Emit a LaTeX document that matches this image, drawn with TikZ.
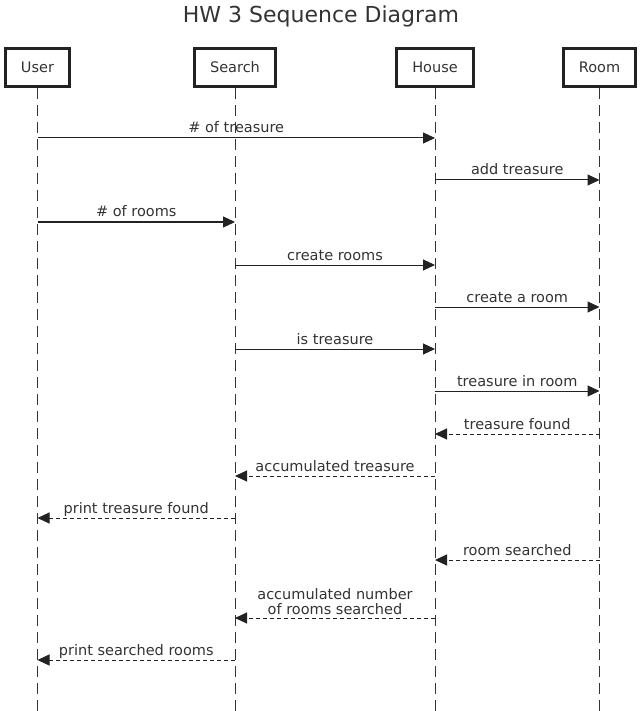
\documentclass[tikz,border=0pt]{standalone}
\usepackage{fontspec}
\setmainfont{DejaVu Sans}
\usetikzlibrary{arrows.meta}
\definecolor{ink}{HTML}{333333}
\definecolor{dark}{HTML}{222222}

\tikzset{
	actor/.style={draw=dark, line width=2.8pt, minimum height=38.2pt, inner sep=0pt,
		text=ink, font=\fontsize{14.5}{17}\selectfont},
	life/.style={draw=ink, line width=1pt, dash pattern=on 11pt off 6pt},
	msg/.style={draw=dark, line width=1pt, -{Triangle[length=12pt,width=11pt]}},
	reply/.style={msg, dash pattern=on 4pt off 3pt},
	lbl/.style={anchor=base, yshift=5pt, inner sep=0pt, text=ink,
		font=\fontsize{14.5}{15}\selectfont},
}

\begin{document}
\begin{tikzpicture}[x=1pt,y=-1pt]

\useasboundingbox (0,0) rectangle (642,711);

%Title
\node [text=ink, font=\fontsize{22}{26}\selectfont]  (title) at (321,16) {HW 3 Sequence Diagram};

%Actors
\node [actor, minimum width=64.2pt]  (user) at (37.5,67.5) {User};
\node [actor, minimum width=81.2pt]  (search) at (235,67.5) {Search};
\node [actor, minimum width=77.2pt]  (house) at (435,67.5) {House};
\node [actor, minimum width=72.2pt]  (room) at (599.5,67.5) {Room};

%Lifelines
\coordinate (bottom) at (0,711);
\draw[life] (user.south) -- (user |- bottom);
\draw[life] (search.south) -- (search |- bottom);
\draw[life] (house.south) -- (house |- bottom);
\draw[life] (room.south) -- (room |- bottom);

%Message rows
\coordinate (r1) at (0,138);
\coordinate (r2) at (0,180);
\coordinate (r3) at (0,222);
\coordinate (r4) at (0,265);
\coordinate (r5) at (0,307);
\coordinate (r6) at (0,349);
\coordinate (r7) at (0,391);
\coordinate (r8) at (0,434);
\coordinate (r9) at (0,476);
\coordinate (r10) at (0,518);
\coordinate (r11) at (0,560);
\coordinate (r12) at (0,618);
\coordinate (r13) at (0,660);

%Calls
\draw[msg] (user |- r1) -- (house |- r1) node[lbl, midway] {\# of treasure};
\draw[msg] (house |- r2) -- (room |- r2) node[lbl, midway] {add treasure};
\draw[msg] (user |- r3) -- (search |- r3) node[lbl, midway] {\# of rooms};
\draw[msg] (search |- r4) -- (house |- r4) node[lbl, midway] {create rooms};
\draw[msg] (house |- r5) -- (room |- r5) node[lbl, midway] {create a room};
\draw[msg] (search |- r6) -- (house |- r6) node[lbl, midway] {is treasure};
\draw[msg] (house |- r7) -- (room |- r7) node[lbl, midway] {treasure in room};

%Replies
\draw[reply] (room |- r8) -- (house |- r8) node[lbl, midway] {treasure found};
\draw[reply] (house |- r9) -- (search |- r9) node[lbl, midway] {accumulated treasure};
\draw[reply] (search |- r10) -- (user |- r10) node[lbl, midway] {print treasure found};
\draw[reply] (room |- r11) -- (house |- r11) node[lbl, midway] {room searched};
\draw[reply] (house |- r12) -- (search |- r12) node[lbl, midway, anchor=south, yshift=-2pt, align=center] {accumulated number\\of rooms searched};
\draw[reply] (search |- r13) -- (user |- r13) node[lbl, midway] {print searched rooms};

\end{tikzpicture}
\end{document}
